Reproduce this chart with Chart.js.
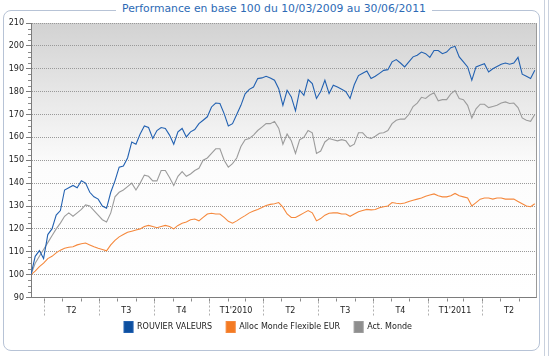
<!DOCTYPE html>
<html><head><meta charset="utf-8">
<script src="https://cdn.jsdelivr.net/npm/chart.js@4/dist/chart.umd.min.js"></script>
<style>
html,body{margin:0;padding:0;background:#fff;}
#wrap{position:relative;width:550px;height:356px;overflow:hidden;background:#fff;}
#frame{position:absolute;left:3px;top:10px;width:537px;height:341px;border:1px solid #b7c3d6;border-radius:8px;box-sizing:border-box;}
#sb1{position:absolute;left:544px;top:0;width:1px;height:356px;background:#c9d1de;}
#sb2{position:absolute;left:548px;top:0;width:1px;height:356px;background:#c9d1de;}
canvas{position:absolute;left:0;top:0;}
#title{position:absolute;top:2px;left:0;width:548px;text-align:center;font:10.8px "DejaVu Sans",sans-serif;color:#2c6ab5;z-index:2;}
#title span{background:#fff;padding:0 6px;}
</style></head>
<body><div id="wrap"><div id="frame"></div><div id="sb1"></div><div id="sb2"></div>
<canvas id="c" width="550" height="356"></canvas>
<div id="title"><span>Performance en base 100 du 10/03/2009 au 30/06/2011</span></div></div>
<script>
// one value every 7 days starting 10/03/2009 (day 0) to 30/06/2011 (day 842)
const STEP_DAYS = 7;
const TOTAL_DAYS = 842;
const seriesNames = ['ROUVIER VALEURS', 'Alloc Monde Flexible EUR', 'Act. Monde'];
const rouvier = [
 100,108,110.5,107,117.5,120,126,128,137,138,
 139,138,141,140,136,134,133,130,129,136,
 141,147,147.5,151,158,157,161.5,165,164.3,159.5,
 163,164.3,163.9,161,157,162.4,163.9,160.2,162.4,163.4,
 166,167.5,169,173.3,175,174.8,170.4,165,166,170,
 174,179,181,182,185.7,186,186.7,186,185,181.3,
 174,180.6,177.7,171.6,180.6,178.4,185.3,183.5,177,180,
 185,179.2,182.8,182,181,180,177,183,187,188,
 189,185.7,186.7,188,189.3,189.6,193,194,192.5,190.8,
 193,195.2,195.9,197.3,196.6,195,198,198,196.6,197.3,
 199.2,199.8,195.2,193,190.8,185,190.8,191.5,192.2,188.6,
 190,191,192,192.5,192,192.5,195,187.6,186.7,185.7,
 189.3];
const allocMonde = [
 100,101.5,103.5,105,107,108,109.5,110.7,111.5,112,
 112.2,113,113.5,113.8,113,112.2,111.5,111,110.4,113,
 115,116.5,117.5,118.5,119,119.5,120,121,121.5,121,
 120.5,121,121.5,121,120,121.5,122.5,123,124,124.3,
 123.5,125,126.5,126.8,126.5,126.5,125,123.3,122.5,123.5,
 124.7,125.8,127,127.8,128.5,129.3,130.2,130.7,131,131.5,
 129.5,126.5,125,125,126,127,128,127,123.5,124.5,
 126,126.8,127,127,126.5,126.5,125.5,126.5,127.5,128,
 128.5,128.3,128.5,129.2,129.7,130,131.5,131.2,131,131.3,
 132,132.5,133,133.5,134.3,134.8,135.3,134.5,134,134,
 134.5,135.5,134.5,134,133.5,130,131.5,133,133.5,133.5,
 133,133.5,133.5,133,133,133,132,131,130,129.7,
 131];
const actMonde = [
 100,105,108,111,114,117,120,122.5,125.5,127,
 125.5,127,128.5,130.5,130,128,126,124,123,127,
 134,136,137,138.5,140,137,140,143.5,143,141,
 141,145.5,145.5,142.5,139,143,145,143,144,145.5,
 146.5,150,151,153,155,155,150,147,148.5,151,
 156,159,159.5,161,163,164.5,166,166,167,164,
 157,161.5,158.5,153,159,160,163,162,153,154,
 158,159.5,159,158.5,159,158.5,156,157,162,162,
 160,159.5,160.5,161.8,162,163,166,167.5,168,168,
 170,173.5,175,177.5,177,178.5,179.5,176,176.5,176.5,
 179,180.5,177,176.5,174,168.5,172.5,174.5,174.5,173,
 173.5,174,175,175.5,174.8,175,173,168.5,167.5,167,
 170];
// day offsets of quarter starts (01/04/2009 ... 01/04/2011) and of other month starts
const quarterStarts = [22,113,205,297,387,478,570,662,752];
const quarterEnds   = [113,205,297,387,478,570,662,752,842];
const quarterLabels = ['T2','T3','T4',"T1'2010",'T2','T3','T4',"T1'2011",'T2'];
const monthStarts = [52,83,144,175,236,266,328,356,417,448,509,540,601,631,693,721,782,813];
const yTicks = {min:90, max:210, step:10, minorStep:2.5};

const days = rouvier.map((_, i) => i * STEP_DAYS);
const toXY = arr => arr.map((v, i) => ({x: days[i], y: v}));
const quarterMid = quarterStarts.map((s, i) => (s + quarterEnds[i]) / 2);

const FONT = 'DejaVu Sans';
const LEGEND_SHIFT = 12;

const decor = {
  id: 'decor',
  afterLayout(chart) {
    const lg = chart.legend;
    if (lg) { lg.top -= LEGEND_SHIFT; lg.bottom -= LEGEND_SHIFT; }
  },
  beforeDraw(chart) {
    const {ctx, chartArea: a} = chart;
    const g = ctx.createLinearGradient(0, a.top, 0, a.bottom);
    g.addColorStop(0, '#d2d2d2');
    g.addColorStop(0.52, '#fcfcfc');
    g.addColorStop(1, '#ffffff');
    ctx.save();
    ctx.fillStyle = g;
    ctx.fillRect(a.left, a.top, a.right - a.left, a.bottom - a.top);
    ctx.restore();
  },
  afterDraw(chart) {
    const {ctx, chartArea: a} = chart;
    const xs = chart.scales.x, ys = chart.scales.y;
    ctx.save();
    ctx.strokeStyle = '#9a9a9a'; ctx.lineWidth = 1;
    ctx.beginPath(); ctx.moveTo(Math.round(a.right) + 0.5, a.top); ctx.lineTo(Math.round(a.right) + 0.5, a.bottom); ctx.stroke();
    ctx.strokeStyle = '#8a8a8a';
    monthStarts.concat(quarterStarts).forEach(d => {
      const x = Math.round(xs.getPixelForValue(d)) + 0.5;
      ctx.beginPath(); ctx.moveTo(x, a.bottom + 1); ctx.lineTo(x, a.bottom + 4); ctx.stroke();
    });
    ctx.strokeStyle = '#b0b0b0'; ctx.setLineDash([2, 2]);
    quarterStarts.forEach(d => {
      const x = Math.round(xs.getPixelForValue(d)) + 0.5;
      ctx.beginPath(); ctx.moveTo(x, a.bottom + 4); ctx.lineTo(x, a.bottom + 19); ctx.stroke();
    });
    ctx.setLineDash([]);
    ctx.strokeStyle = '#8a8a8a';
    for (let v = yTicks.min; v <= yTicks.max; v += yTicks.minorStep) {
      if (v % yTicks.step === 0) continue;
      const y = Math.round(ys.getPixelForValue(v)) + 0.5;
      ctx.beginPath(); ctx.moveTo(a.left - 3, y); ctx.lineTo(a.left, y); ctx.stroke();
    }
    ctx.restore();
  }
};

new Chart(document.getElementById('c'), {
  type: 'line',
  data: {
    datasets: [
      {label: seriesNames[0], data: toXY(rouvier), borderColor: '#2261b1', backgroundColor: '#0d4f9f', borderWidth: 1.1},
      {label: seriesNames[1], data: toXY(allocMonde), borderColor: '#f5883c', backgroundColor: '#f47a22', borderWidth: 1.1},
      {label: seriesNames[2], data: toXY(actMonde), borderColor: '#9c9c9c', backgroundColor: '#8e8e8e', borderWidth: 1.1}
    ]
  },
  options: {
    responsive: false, animation: false,
    elements: {point: {radius: 0}, line: {tension: 0}},
    layout: {padding: {left: 0, right: 14, top: 23, bottom: 1.5}},
    plugins: {
      tooltip: {enabled: false},
      legend: {
        position: 'bottom',
        labels: {boxWidth: 9, boxHeight: 11, padding: 14, color: '#222', font: {family: FONT, size: 8}}
      }
    },
    scales: {
      x: {
        type: 'linear', min: 0, max: TOTAL_DAYS,
        afterBuildTicks: s => { s.ticks = quarterMid.map(v => ({value: v})); },
        afterFit: s => { s.height = 22; },
        ticks: {autoSkip: false, maxRotation: 0, padding: 9, color: '#222', font: {family: FONT, size: 8},
                callback: (v, i) => quarterLabels[i]},
        grid: {display: false, drawTicks: false, tickLength: 0},
        border: {display: true, color: '#7c7c7c'}
      },
      y: {
        min: yTicks.min, max: yTicks.max,
        afterFit: s => { s.width = 31; },
        ticks: {stepSize: yTicks.step, padding: 2, color: '#222', font: {family: FONT, size: 8}},
        grid: {color: '#999999', tickLength: 5, tickColor: '#7c7c7c'},
        border: {display: true, color: '#7c7c7c', dash: [1, 1]}
      }
    }
  },
  plugins: [decor]
});
</script>
</body></html>
